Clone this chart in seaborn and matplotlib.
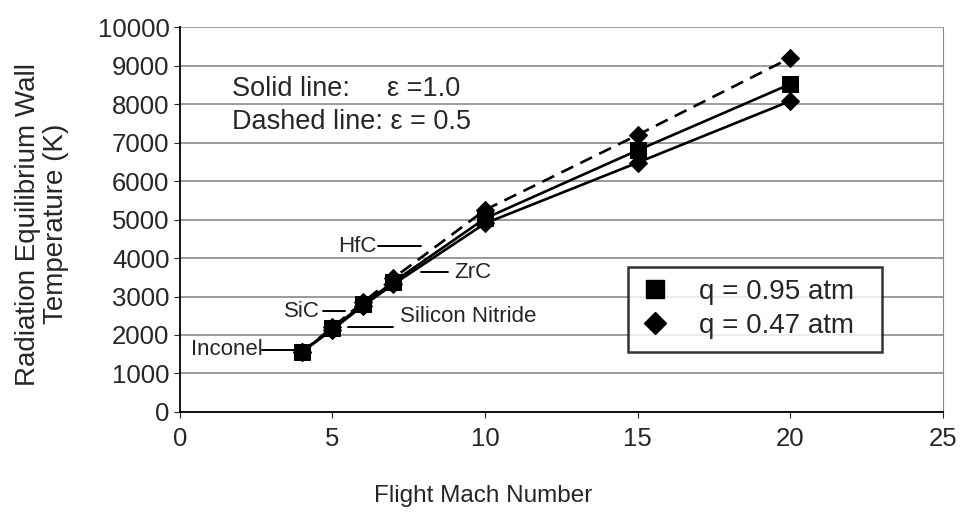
import pandas as pd
import matplotlib
matplotlib.use("Agg")
import matplotlib.pyplot as plt
import seaborn as sns
from matplotlib.lines import Line2D

# data
mach = [4, 5, 6, 7, 10, 15, 20]
t_q095_e10 = [1560, 2170, 2800, 3380, 5030, 6800, 8520]
t_q047_e10 = [1560, 2140, 2760, 3320, 4900, 6480, 8080]
t_q047_e05 = [1560, 2200, 2850, 3480, 5250, 7200, 9200]

sns.set_style("white")
plt.rcParams["font.family"] = ["Liberation Sans", "DejaVu Sans"]

fig = plt.figure(figsize=(9.62, 5.13), dpi=100)
ax = fig.add_axes([0.187, 0.197, 0.793, 0.750])

df = pd.DataFrame({"mach": mach * 3,
                   "temp": t_q095_e10 + t_q047_e10 + t_q047_e05,
                   "series": ["a"] * 7 + ["b"] * 7 + ["c"] * 7})

sns.lineplot(data=df[df.series == "c"], x="mach", y="temp", ax=ax, color="black",
             lw=1.9, ls=(0, (5, 3)), marker="D", markersize=9, markeredgecolor="black")
sns.lineplot(data=df[df.series == "b"], x="mach", y="temp", ax=ax, color="black",
             lw=1.9, marker="D", markersize=9, markeredgecolor="black")
sns.lineplot(data=df[df.series == "a"], x="mach", y="temp", ax=ax, color="black",
             lw=1.9, marker="s", markersize=11, markeredgecolor="black")

ax.set_xlim(0, 25)
ax.set_ylim(0, 10000)
ax.set_xticks(range(0, 26, 5))
ax.set_yticks(range(0, 10001, 1000))
ax.tick_params(axis="both", labelsize=18.5, length=4, direction="out", bottom=True, left=True)
ax.tick_params(axis="x", pad=7)
ax.yaxis.grid(True, color="#8a8a8a", lw=1.2)
ax.xaxis.grid(False)
for s in ["left", "bottom"]:
    ax.spines[s].set_color("black")
    ax.spines[s].set_linewidth(1.3)
ax.spines["right"].set_color("#8a8a8a")
ax.spines["top"].set_visible(False)

ax.set_xlabel("Flight Mach Number", fontsize=17.5)
ax.xaxis.set_label_coords(0.397, -0.19)
ax.set_ylabel("Radiation Equilibrium Wall\nTemperature (K)", fontsize=20, linespacing=1.1)
ax.yaxis.set_label_coords(-0.146, 0.488)

ax.text(1.7, 8390, "Solid line:", fontsize=19.5, va="center")
ax.text(6.8, 8390, "\u03b5 =1.0", fontsize=19.5, va="center")
ax.text(1.7, 7530, "Dashed line: \u03b5 = 0.5", fontsize=19.5, va="center")

# material labels with leader lines
lbl = dict(fontsize=16, va="center")
ax.text(2.7, 1610, "Inconel", ha="right", **lbl)
ax.plot([2.7, 3.9], [1610, 1610], color="black", lw=1.4)
ax.text(4.6, 2620, "SiC", ha="right", **lbl)
ax.plot([4.7, 5.4], [2620, 2620], color="black", lw=1.4)
ax.text(7.2, 2480, "Silicon Nitride", **lbl)
ax.plot([5.5, 7.0], [2220, 2220], color="black", lw=1.4)
ax.text(6.45, 4300, "HfC", ha="right", **lbl)
ax.plot([6.5, 7.9], [4300, 4300], color="black", lw=1.4)
ax.text(9.0, 3630, "ZrC", **lbl)
ax.plot([7.9, 8.8], [3630, 3630], color="black", lw=1.4)

handles = [Line2D([], [], color="black", marker="s", ls="none", markersize=13),
           Line2D([], [], color="black", marker="D", ls="none", markersize=11)]
leg = ax.legend(handles, ["q = 0.95 atm  ", "q = 0.47 atm  "], loc="upper left",
                bbox_to_anchor=(0.588, 0.378), fontsize=20, frameon=True,
                fancybox=False, edgecolor="black", handlelength=1.0, handletextpad=1.1,
                borderpad=0.45, labelspacing=0.29, borderaxespad=0)
leg.get_frame().set_linewidth(1.8)

fig.savefig("out.png", dpi=100)
